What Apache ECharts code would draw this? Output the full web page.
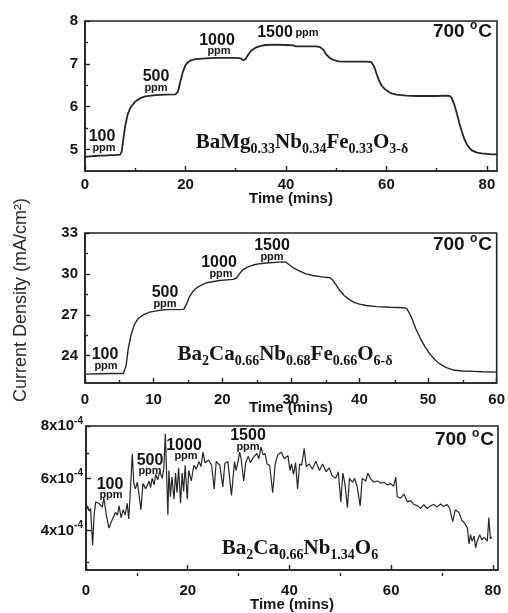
<!DOCTYPE html>
<html>
<head>
<meta charset="utf-8">
<script src="https://cdn.jsdelivr.net/npm/echarts@6/dist/echarts.min.js"></script>
<style>
  html, body { margin: 0; padding: 0; background: #fff; }
  #chart { width: 508px; height: 613px; }
</style>
</head>
<body>
<div id="chart"></div>
<script>
// panel 1: BaMg0.33Nb0.34Fe0.33O3-d
const time1 = [0, 1, 2, 3, 4, 5, 6, 7, 7.3, 7.7, 8, 8.5, 9, 9.5, 10, 11, 12, 14, 16, 18, 18.5, 19, 19.5, 20, 20.5, 21, 22, 24, 26, 28, 30, 31, 31.5, 32, 32.5, 33, 34, 35, 36, 38, 40, 41.5, 42, 44, 46, 46.8, 47.5, 48, 48.8, 49.5, 50.5, 52, 54, 56, 57, 57.5, 58, 58.5, 59, 59.5, 60, 61, 62, 64, 66, 68, 70, 72, 72.6, 73, 73.5, 74, 74.5, 75, 75.5, 76, 76.5, 77, 78, 79, 80, 81, 82]
const current1 = [4.83, 4.84, 4.85, 4.86, 4.86, 4.87, 4.87, 4.88, 4.95, 5.3, 5.55, 5.82, 5.97, 6.05, 6.12, 6.2, 6.24, 6.27, 6.28, 6.29, 6.35, 6.6, 6.82, 6.97, 7.04, 7.08, 7.11, 7.13, 7.14, 7.14, 7.14, 7.13, 7.08, 7.12, 7.22, 7.3, 7.38, 7.42, 7.44, 7.45, 7.44, 7.43, 7.41, 7.41, 7.41, 7.39, 7.32, 7.22, 7.13, 7.09, 7.06, 7.05, 7.05, 7.05, 7.04, 6.95, 6.78, 6.62, 6.5, 6.43, 6.38, 6.31, 6.28, 6.26, 6.25, 6.25, 6.25, 6.26, 6.25, 6.2, 6.05, 5.85, 5.62, 5.42, 5.25, 5.12, 5.04, 4.98, 4.93, 4.91, 4.9, 4.89, 4.89]

// panel 2: Ba2Ca0.66Nb0.68Fe0.66O6-d
const time2 = [0, 2, 4, 5.6, 6, 6.3, 6.7, 7.2, 7.8, 8.5, 9.4, 10.9, 12, 14.4, 14.8, 15.2, 15.7, 16.2, 17, 17.7, 19.6, 21.6, 22.1, 22.5, 23, 23.7, 24.5, 25.5, 26.4, 28.8, 29.3, 29.8, 30.5, 31.3, 32.2, 33.2, 34.5, 35.7, 36.1, 36.6, 37.1, 37.8, 38.6, 39.3, 40, 41, 42.5, 44.5, 46.5, 46.9, 47.3, 47.6, 48.2, 48.8, 49.5, 50.3, 51, 51.7, 52.6, 53.7, 55, 56.6, 58, 60]
const current2 = [22.65, 22.68, 22.7, 22.7, 23.3, 24.5, 25.5, 26.3, 26.75, 27.0, 27.2, 27.33, 27.38, 27.4, 27.8, 28.3, 28.7, 28.95, 29.2, 29.35, 29.52, 29.6, 29.7, 30.0, 30.3, 30.5, 30.65, 30.75, 30.8, 30.88, 30.85, 30.65, 30.4, 30.2, 30.0, 29.88, 29.78, 29.72, 29.55, 29.2, 28.8, 28.4, 28.1, 27.9, 27.78, 27.68, 27.6, 27.55, 27.52, 27.45, 27.1, 26.8, 26.0, 25.35, 24.7, 24.1, 23.7, 23.4, 23.15, 22.95, 22.88, 22.85, 22.82, 22.8]

// panel 3: Ba2Ca0.66Nb1.34O6, current in units of 1e-4 mA/cm2
const time3 = [0, 0.3, 0.6, 0.9, 1.3, 1.6, 1.9, 2.5, 3.2, 3.5, 4, 4.5, 5.2, 5.8, 6.2, 6.5, 6.9, 7.3, 7.7, 8.1, 8.4, 8.8, 9.1, 9.4, 9.7, 10.1, 10.4, 10.8, 11.2, 11.7, 12.1, 12.4, 12.7, 13, 13.4, 13.7, 14.1, 14.5, 15, 15.3, 15.6, 16.1, 16.3, 16.6, 16.9, 17.3, 17.6, 17.9, 18.2, 18.6, 18.9, 19.2, 19.5, 19.9, 20.2, 20.7, 21.2, 21.7, 22.2, 22.6, 23, 23.4, 24.1, 24.7, 25.2, 25.6, 26.3, 26.9, 27.3, 27.9, 28.6, 29.2, 29.5, 29.9, 30.2, 30.5, 31, 31.4, 31.9, 32.3, 32.9, 33.6, 34, 34.4, 34.8, 35.2, 35.6, 36.1, 36.7, 37.2, 37.7, 38.4, 39, 39.7, 40.1, 40.4, 40.8, 41.2, 41.6, 42, 42.4, 42.9, 43.3, 43.9, 44.5, 45.2, 45.9, 46.5, 47.2, 47.8, 48.4, 49.1, 49.6, 50.1, 50.5, 50.9, 51.4, 51.8, 52.4, 52.8, 53.3, 53.9, 54.3, 55, 55.4, 56, 56.6, 57.3, 58, 58.6, 59.2, 59.9, 60.5, 60.9, 61.2, 61.9, 62.5, 63.2, 63.8, 64.5, 65.2, 65.8, 66.4, 67.1, 67.7, 68.4, 69, 69.7, 70.3, 71, 71.5, 72.1, 72.6, 73.3, 73.9, 74.4, 75, 75.3, 75.6, 75.9, 76.3, 76.6, 76.9, 77.4, 77.8, 78.3, 78.9, 79.2, 79.5, 79.8]
const current3 = [4.8, 4.95, 4.75, 4.85, 3.45, 4.6, 5.1, 5.05, 4.9, 5.25, 4.6, 4.1, 4.45, 4.7, 4.6, 4.95, 4.5, 4.8, 4.6, 5.05, 4.45, 5.8, 6.94, 5.8, 5.6, 5.85, 5.4, 4.8, 5.8, 5.6, 5.75, 5.9, 5.65, 6.0, 5.75, 6.15, 5.95, 6.27, 6.0, 6.4, 7.7, 4.6, 6.3, 5.3, 6.05, 5.2, 6.2, 5.45, 6.4, 5.05, 6.2, 5.5, 6.5, 5.2, 6.3, 5.9, 6.5, 6.35, 6.65, 6.45, 7.0, 6.6, 6.7, 6.5, 5.6, 6.65, 6.5, 5.67, 6.58, 6.64, 5.35, 6.64, 6.3, 6.65, 7.0, 6.75, 5.9, 6.6, 6.85, 6.6, 6.8, 6.95, 6.75, 7.2, 6.9, 6.95, 6.55, 6.5, 5.45, 6.55, 6.9, 7.0, 6.75, 6.87, 6.3, 6.55, 6.15, 6.6, 5.6, 6.55, 6.5, 7.15, 6.45, 6.55, 6.35, 6.65, 6.3, 6.55, 6.25, 6.4, 6.1, 6.0, 6.25, 5.1, 6.2, 5.8, 4.88, 6.0, 5.85, 6.0, 5.7, 4.95, 6.0, 5.9, 6.2, 5.97, 5.85, 5.9, 5.82, 5.85, 5.75, 5.8, 5.7, 6.05, 5.3, 5.25, 5.4, 5.1, 5.15, 5.0, 4.95, 4.85, 5.0, 4.85, 4.95, 5.0, 4.9, 5.02, 4.93, 5.0, 4.85, 4.35, 4.8, 4.7, 4.4, 4.3, 4.1, 3.5, 3.85, 3.6, 3.8, 3.35, 3.6, 3.85, 3.65, 3.75, 3.6, 4.5, 3.7, 3.75]

const ppmLabels = ['100', '500', '1000', '1500']
const formulas = [
  '{b|BaMg}{s|0.33}{b|Nb}{s|0.34}{b|Fe}{s|0.33}{b|O}{s|3-δ}',
  '{b|Ba}{s|2}{b|Ca}{s|0.66}{b|Nb}{s|0.68}{b|Fe}{s|0.66}{b|O}{s|6-δ}',
  '{b|Ba}{s|2}{b|Ca}{s|0.66}{b|Nb}{s|1.34}{b|O}{s|6}'
]

const zip = (xs, ys) => xs.map((x, i) => [x, ys[i]])

const SANS = 'Liberation Sans, Arial, sans-serif'
const SERIF = 'Liberation Serif, Times New Roman, serif'
const INK = '#151515'

// plot rectangles [left, top, width, height]
const rects = [
  [85, 21, 412, 150],
  [85, 233, 413, 150],
  [86, 426, 412, 150]
]

const panels = [
  { xMin: 0, xMax: 82, xMajor: [0, 20, 40, 60, 80], xMinor: [10, 30, 50, 70], yMin: 4.5, yMax: 8, yMajor: [5, 6, 7, 8], yMinor: [5.5, 6.5, 7.5], labelMargin: 6, nameGap: 20, lineW: 1.8 },
  { xMin: 0, xMax: 60, xMajor: [0, 10, 20, 30, 40, 50, 60], xMinor: [5, 15, 25, 35, 45, 55], yMin: 22, yMax: 33, yMajor: [24, 27, 30, 33], yMinor: [25.5, 28.5, 31.5], labelMargin: 9, nameGap: 17, lineW: 1.4 },
  { xMin: 0, xMax: 81, xMajor: [0, 20, 40, 60, 80], xMinor: [10, 30, 50, 70], yMin: 2.5, yMax: 8, yMajor: [4, 6, 8], yMinor: [3, 5, 7], labelMargin: 13, nameGap: 27, lineW: 1.2, sci: true }
]

const grids = []
const xAxes = []
const yAxes = []
const series = []
const tickStyle = { color: '#222', width: 1.4 }

panels.forEach((p, i) => {
  const [l, t, w, h] = rects[i]
  grids.push({ left: l, top: t, width: w, height: h, show: true, borderColor: '#222', borderWidth: 1.6, backgroundColor: 'transparent' })
  xAxes.push({
    type: 'value', gridIndex: i, min: p.xMin, max: p.xMax, position: 'bottom',
    axisLine: { show: true, onZero: false, lineStyle: { color: '#222', width: 1.6 } },
    axisTick: { show: true, inside: true, length: 5, customValues: p.xMajor, lineStyle: tickStyle },
    axisLabel: { customValues: p.xMajor, color: INK, fontWeight: 'bold', fontSize: 15, fontFamily: SANS, margin: p.labelMargin },
    splitLine: { show: false },
    name: 'Time (mins)', nameLocation: 'middle', nameGap: p.nameGap, nameMoveOverlap: false,
    nameTextStyle: { color: INK, fontWeight: 'bold', fontSize: 15, fontFamily: SANS, verticalAlign: 'top' }
  })
  yAxes.push({
    type: 'value', gridIndex: i, min: p.yMin, max: p.yMax, position: 'left',
    axisLine: { show: true, onZero: false, lineStyle: { color: '#222', width: 1.6 } },
    axisTick: { show: true, inside: true, length: 5, customValues: p.yMajor, lineStyle: tickStyle },
    axisLabel: p.sci ? {
      customValues: p.yMajor, margin: 3,
      formatter: v => '{m|' + v + 'x10}{e|-4}',
      rich: {
        m: { color: INK, fontWeight: 'bold', fontSize: 15, fontFamily: SANS },
        e: { color: INK, fontWeight: 'bold', fontSize: 10, fontFamily: SANS, padding: [0, 0, 10, 0] }
      }
    } : { customValues: p.yMajor, color: INK, fontWeight: 'bold', fontSize: 15, fontFamily: SANS, margin: 7 },
    splitLine: { show: false }
  })
  series.push({
    type: 'line', xAxisIndex: i, yAxisIndex: i, showSymbol: false, symbol: 'none',
    lineStyle: { color: '#262626', width: p.lineW },
    data: []
  })
})

// overlay grids carrying the short minor ticks
panels.forEach((p, i) => {
  const [l, t, w, h] = rects[i]
  const g = grids.length
  grids.push({ left: l, top: t, width: w, height: h, show: false })
  xAxes.push({
    type: 'value', gridIndex: g, min: p.xMin, max: p.xMax, position: 'bottom',
    axisLine: { show: false, onZero: false },
    axisTick: { show: true, inside: true, length: 3, customValues: p.xMinor, lineStyle: tickStyle },
    axisLabel: { show: false }, splitLine: { show: false }
  })
  yAxes.push({
    type: 'value', gridIndex: g, min: p.yMin, max: p.yMax, position: 'left',
    axisLine: { show: false, onZero: false },
    axisTick: { show: true, inside: true, length: 3, customValues: p.yMinor, lineStyle: tickStyle },
    axisLabel: { show: false }, splitLine: { show: false }
  })
})

series[0].data = zip(time1, current1)
series[1].data = zip(time2, current2)
series[2].data = zip(time3, current3)

// text helpers
const txt = (x, y, text, size, align) => ({
  type: 'text', x, y, silent: true,
  style: { text, fill: INK, font: 'bold ' + size + 'px ' + SANS, align: align || 'center', verticalAlign: 'middle' }
})

const formulaRich = {
  b: { fontFamily: SERIF, fontWeight: 'bold', fontSize: 21, fill: INK, color: INK },
  s: { fontFamily: SERIF, fontWeight: 'bold', fontSize: 14, fill: INK, color: INK, padding: [13, 0, 0, 0] }
}
const formula = (x, y, text) => ({
  type: 'text', x, y, silent: true,
  style: { text, rich: formulaRich, align: 'center', verticalAlign: 'middle', fill: INK }
})

const tempRich = {
  t: { fontFamily: SANS, fontWeight: 'bold', fontSize: 19, fill: INK, color: INK },
  o: { fontFamily: SANS, fontWeight: 'bold', fontSize: 12, fill: INK, color: INK, padding: [0, 1, 12, 0] }
}
const temp = (x, y) => ({
  type: 'text', x, y, silent: true,
  style: { text: '{t|700 }{o|o}{t|C}', rich: tempRich, align: 'right', verticalAlign: 'middle', fill: INK }
})

// ppm marker positions per panel: [numX, numY, ppmX, ppmY]
const ppmPos = [
  [[102, 137, 104, 148], [156, 77, 156, 88], [217, 41, 219, 51], [275, 33, 307, 33]],
  [[105, 355, 106, 366], [165, 293, 165, 304], [219, 263, 221, 274], [272, 246, 272, 257]],
  [[110, 485, 111, 495], [150, 461, 150, 471], [184, 446, 186, 456], [248, 436, 248, 447]]
]

const graphics = [
  {
    type: 'text', x: 21, y: 300, rotation: Math.PI / 2, silent: true,
    style: { text: 'Current Density (mA/cm²)', fill: '#2a2a2a', font: '18px ' + SANS, align: 'center', verticalAlign: 'middle' }
  },
  formula(302, 143, formulas[0]),
  formula(285, 355, formulas[1]),
  formula(300, 549, formulas[2]),
  temp(492, 32),
  temp(492, 245),
  temp(494, 440)
]
ppmPos.forEach(panel => {
  panel.forEach((pos, k) => {
    graphics.push(txt(pos[0], pos[1], ppmLabels[k], 16))
    graphics.push(txt(pos[2], pos[3], 'ppm', 11))
  })
})

const chart = echarts.init(document.getElementById('chart'), null, { renderer: 'canvas' })
chart.setOption({
  animation: false,
  backgroundColor: '#fff',
  grid: grids,
  xAxis: xAxes,
  yAxis: yAxes,
  series,
  graphic: graphics
})
</script>
</body>
</html>
